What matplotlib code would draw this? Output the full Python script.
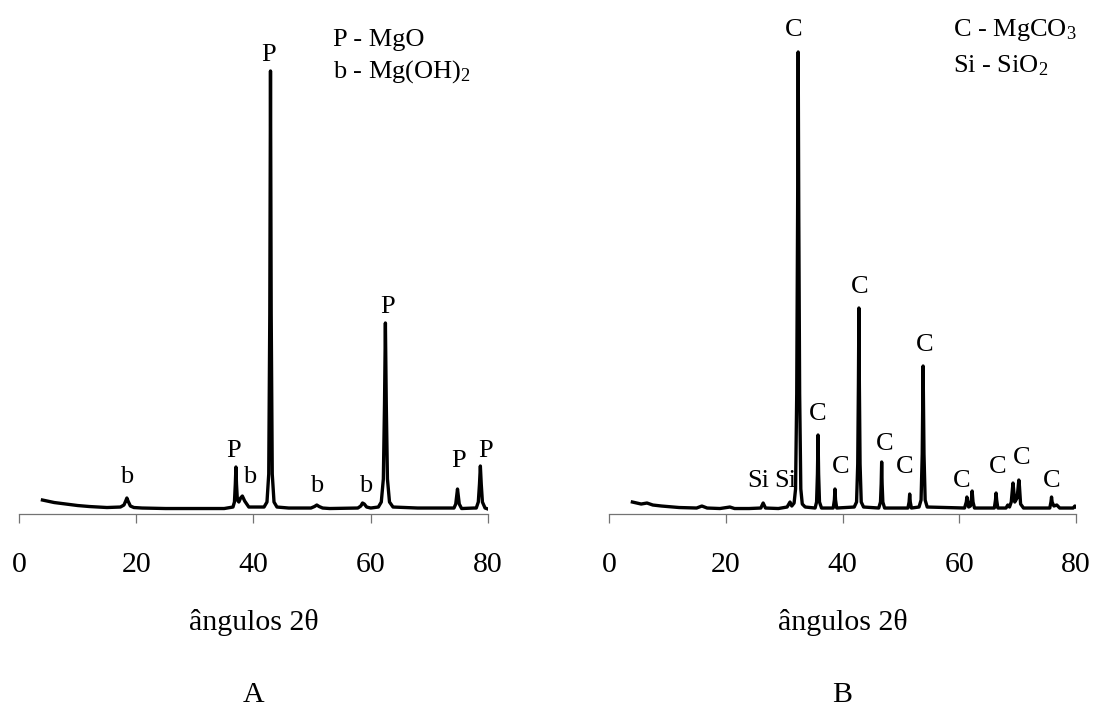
import matplotlib
matplotlib.use('Agg')
import matplotlib.pyplot as plt

plt.rcParams['font.family'] = ['Liberation Serif', 'DejaVu Serif']
plt.rcParams['mathtext.fontset'] = 'custom'
plt.rcParams['mathtext.rm'] = 'Liberation Serif'
plt.rcParams['mathtext.default'] = 'regular'

# sample A (MgO) - 2theta vs intensity (arbitrary units)
ang_a = [4.0, 6, 8, 10, 12, 15, 17.3, 17.9, 18.2, 18.4, 18.6, 19.0, 19.6, 21, 25, 30, 35,
         36.5, 36.75, 36.9, 37.0, 37.1, 37.25, 37.5, 37.8, 38.1, 38.5, 39.2,
         41.8, 42.3, 42.6, 42.78, 42.9, 43.02, 43.2, 43.5, 44.0, 46,
         49.8, 50.4, 50.8, 51.2, 51.8, 53, 57.8, 58.3, 58.6, 58.9, 59.3, 60.0,
         61.3, 61.8, 62.15, 62.35, 62.5, 62.65, 62.85, 63.2, 63.8, 68,
         74.2, 74.5, 74.7, 74.8, 74.9, 75.1, 75.5, 77.6,
         78.0, 78.35, 78.55, 78.7, 78.85, 79.05, 79.5, 80.0]
int_a = [14, 11.5, 10, 8.5, 7.5, 6.5, 7, 9, 13, 16, 13, 8, 6.5, 6, 5.5, 5.5, 5.5,
         7, 12, 30, 47, 30, 14, 12, 16, 18, 13, 7,
         7, 12, 40, 200, 443, 200, 40, 12, 7, 6,
         6, 7.5, 9, 7.5, 6, 5.5, 6, 8, 11, 10, 7, 6,
         7, 12, 35, 110, 191, 110, 35, 12, 7, 6,
         6, 10, 20, 25, 20, 10, 5.5, 6,
         6, 12, 30, 48, 30, 12, 6, 5]

# sample B (MgCO3)
ang_b = [4.0, 5.5, 6.5, 7.5, 9, 12, 15, 15.9, 16.8, 19, 20.7, 21.5, 24,
         26.0, 26.4, 26.8, 29, 30.5, 31.0, 31.3, 31.7, 31.95, 32.15, 32.3, 32.4,
         32.5, 32.65, 32.85, 33.1, 33.6,
         35.3, 35.55, 35.7, 35.8, 35.9, 36.05, 36.4, 38.4, 38.6, 38.7, 38.8, 39.0,
         42.0, 42.4, 42.6, 42.72, 42.8, 42.88, 43.0, 43.2, 43.6,
         46.2, 46.5, 46.62, 46.7, 46.78, 46.9, 47.2, 51.2, 51.4, 51.5, 51.6, 51.8,
         53.1, 53.45, 53.65, 53.8, 53.95, 54.15, 54.5,
         60.9, 61.2, 61.3, 61.45, 61.6, 61.9, 62.1, 62.2, 62.35, 62.6,
         66.0, 66.2, 66.3, 66.4, 66.6,
         68.0, 68.3, 68.6, 68.9, 69.1, 69.2, 69.3, 69.5, 69.9, 70.1, 70.2, 70.3, 70.5, 71,
         75.5, 75.7, 75.8, 75.9, 76.2, 76.7, 77.2, 79.5, 79.8, 80.0]
int_b = [12, 10, 11, 9, 8, 6.5, 6, 8, 6, 5.5, 7, 5.5, 5.5,
         6, 11, 6, 5.5, 7, 12, 8, 11, 25, 120, 300, 462,
         300, 120, 25, 10, 7,
         6, 12, 40, 79, 40, 12, 6, 6, 14, 25, 14, 6,
         7, 12, 50, 130, 206, 130, 50, 12, 7,
         6, 12, 30, 52, 30, 12, 6, 6, 12, 20, 12, 6,
         7, 14, 60, 148, 60, 14, 7,
         6, 12, 17, 12, 7, 8, 16, 23, 12, 6,
         6, 14, 21, 14, 6,
         6, 9, 7, 12, 25, 31, 25, 12, 16, 28, 34, 28, 10, 6,
         6, 12, 17, 12, 8, 9, 6, 6, 8, 7]

# peak labels: (text, 2theta, height of baseline)
labels_a = [('b', 18.4, 31), ('P', 36.6, 57), ('b', 39.4, 31), ('P', 42.5, 453),
            ('b', 50.8, 22), ('b', 59.2, 22), ('P', 62.8, 201),
            ('P', 74.9, 47), ('P', 79.5, 57)]
labels_b = [('Si', 25.5, 27), ('Si', 30.1, 27), ('C', 31.7, 478), ('C', 35.8, 94),
            ('C', 39.6, 41), ('C', 43.0, 221), ('C', 47.2, 64), ('C', 50.7, 41),
            ('C', 54.1, 163), ('C', 60.4, 27), ('C', 66.6, 41), ('C', 70.7, 50),
            ('C', 75.9, 27)]
legend_a = ['P - MgO', 'b - Mg(OH)$_2$']
legend_b = ['C - MgCO$_3$', 'Si - SiO$_2$']

fig = plt.figure(figsize=(10.96, 7.09), dpi=100)
ax1 = fig.add_axes([0.01734, 0.2750, 0.4279, 0.6968])
ax2 = fig.add_axes([0.5557, 0.2750, 0.4261, 0.6968])

panels = [(ax1, ang_a, int_a, labels_a, legend_a, 53.6, (468, 436), 'A'),
          (ax2, ang_b, int_b, labels_b, legend_b, 58.9, (478, 442), 'B')]

for ax, x, y, labs, leg, lx, ly, name in panels:
    ax.plot(x, y, color='black', lw=2.4, solid_joinstyle='round')
    for t, px, py in labs:
        ax.text(px, py, t, ha='center', va='baseline', fontsize=19)
    for t, yy in zip(leg, ly):
        ax.text(lx, yy, t, ha='left', va='baseline', fontsize=19)
    ax.set_xlim(0, 80)
    ax.set_ylim(0, 494)
    ax.set_xticks([0, 20, 40, 60, 80])
    ax.set_yticks([])
    for s in ['top', 'right', 'left']:
        ax.spines[s].set_visible(False)
    ax.spines['bottom'].set_color('0.45')
    ax.spines['bottom'].set_linewidth(0.9)
    ax.tick_params(axis='x', direction='out', length=6.5, width=0.9,
                   color='0.45', labelsize=21.5, pad=20.5)
    ax.set_xlabel('ângulos 2θ', fontsize=21.5, labelpad=23)
    ax.patch.set_alpha(0)
    xc = ax.get_position().x0 + ax.get_position().width / 2
    fig.text(xc, 0.002, name, ha='center', va='bottom', fontsize=21.5)

fig.savefig('out.png', dpi=100)
